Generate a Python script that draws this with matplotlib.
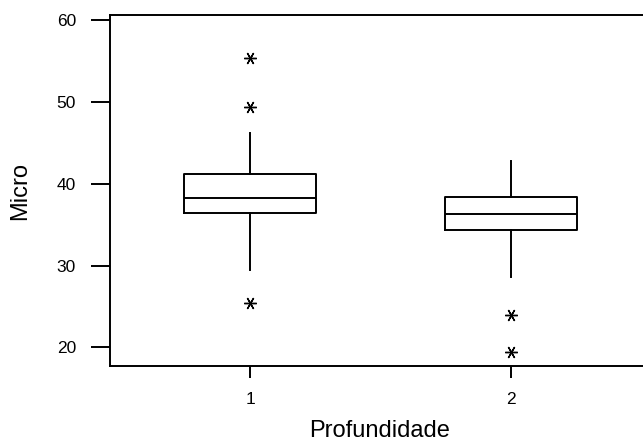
import matplotlib.pyplot as plt

# valores (Micro por Profundidade)
grupos = [1, 2]
rotulos = ['1', '2']
q1 = [36.4, 34.4]
medianas = [38.2, 36.35]
q3 = [41.2, 38.4]
whis_inf = [29.5, 28.6]
whis_sup = [46.2, 42.8]
outliers = [[55.35, 49.4, 25.4], [23.95, 19.4]]

plt.rcParams['font.family'] = ['Liberation Sans', 'DejaVu Sans']

fig = plt.figure(figsize=(6.43, 4.41), dpi=100)
ax = fig.add_axes([109.7 / 643, 1 - 366 / 441, 1 - 109.7 / 643, (366 - 15.3) / 441])

stats = []
for i in range(len(grupos)):
    stats.append({'med': medianas[i], 'q1': q1[i], 'q3': q3[i],
                  'whislo': whis_inf[i], 'whishi': whis_sup[i],
                  'fliers': outliers[i], 'label': rotulos[i]})

lw = 1.4
ax.bxp(stats, positions=grupos, widths=0.505, showcaps=False,
       boxprops=dict(color='black', linewidth=lw),
       medianprops=dict(color='black', linewidth=lw),
       whiskerprops=dict(color='black', linewidth=lw),
       flierprops=dict(marker=(6, 2, 90), markersize=9, markeredgecolor='black',
                       markeredgewidth=1.0, linestyle='none'))

ax.set_xlim(0.463, 2.504)
ax.set_ylim(17.71, 60.61)
ax.set_yticks([20, 30, 40, 50, 60])
ax.set_xticks(grupos)
ax.set_xticklabels(rotulos)

for s in ['left', 'bottom', 'top']:
    ax.spines[s].set_linewidth(lw)
ax.spines['right'].set_visible(False)

ax.tick_params(axis='y', length=13.7, width=lw, labelsize=12.5, pad=10.5)
ax.tick_params(axis='x', length=8.6, width=lw, labelsize=12.5, pad=10)

fig.text(20 / 643, 1 - 191 / 441, 'Micro', rotation=90, ha='center', va='center', fontsize=17)
fig.text(380 / 643, 1 - 437 / 441, 'Profundidade', ha='center', va='baseline', fontsize=17)

fig.savefig('out.png', dpi=100)
